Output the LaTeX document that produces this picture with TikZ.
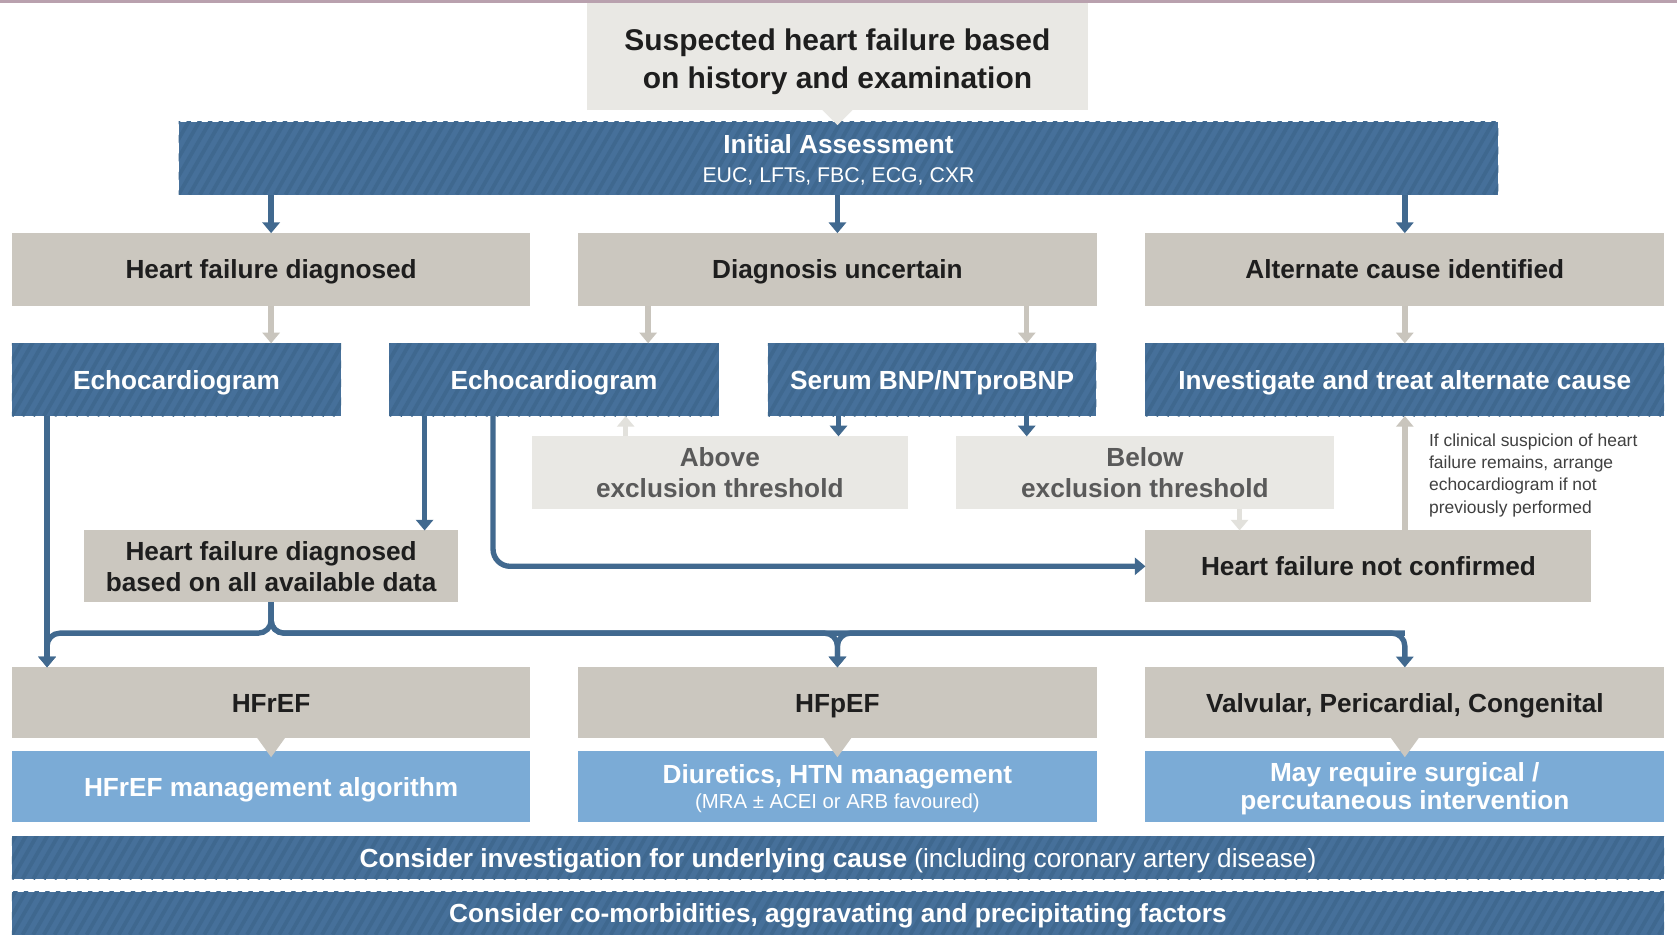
\documentclass[tikz,border=0pt]{standalone}
\usepackage{fontspec}
\setmainfont{Liberation Sans}
\usetikzlibrary{arrows.meta}
\definecolor{dkblue}{HTML}{46709A}
\definecolor{stripe}{HTML}{3F688F}
\definecolor{boxgray}{HTML}{CBC7BF}
\definecolor{boxlight}{HTML}{E9E8E4}
\definecolor{ltblue}{HTML}{7BABD6}
\definecolor{txtdark}{HTML}{1E1E1E}
\definecolor{txtmid}{HTML}{5A5A5A}
\definecolor{lngray}{HTML}{C9C5BD}
\definecolor{lnfaint}{HTML}{E2E1DC}
\definecolor{lnblue}{HTML}{41698F}
\definecolor{topline}{HTML}{B9A1AE}
\tikzset{
  base/.style={rectangle, inner sep=0pt, outer sep=0pt, align=center,
    font=\fontsize{24.5}{29}\selectfont\bfseries},
  one/.style={text height=17.6pt, text depth=0pt},
  stripes/.style={path picture={
    \foreach \k in {0,10,...,1640}
      \draw[stripe, line width=3.5pt]
        ([xshift=\k pt-60pt]path picture bounding box.south west) -- ++(60:115pt);
  }},
  dkbox/.style={base, fill=dkblue, stripes, text=white},
  gybox/.style={base, fill=boxgray, text=txtdark},
  lgbox/.style={base, fill=boxlight, text=txtmid},
  lbbox/.style={base, fill=ltblue, text=white},
  row/.style={minimum width=485pt, minimum height=68pt},
  mid/.style={minimum width=308pt, minimum height=68pt},
  tip/.style={-{Triangle[width=16pt,length=10pt]}},
  dkarr/.style={draw=lnblue, line width=5pt, tip},
  gyarr/.style={draw=lngray, line width=5pt, tip},
  fnarr/.style={draw=lnfaint, line width=5pt, tip},
  dkline/.style={draw=lnblue, line width=5pt, rounded corners=12pt},
}
\begin{document}
\begin{tikzpicture}[x=1pt,y=-1pt]
\useasboundingbox (0,0) rectangle (1568,874);
\fill[white] (0,0) rectangle (1568,874);
\fill[topline] (0,0) rectangle (1568,2.5);

% row 0 / 1
\node[lgbox, text=txtdark, minimum width=468pt, minimum height=100pt, text height=65pt,
  font=\fontsize{28}{35}\selectfont\bfseries] (sus) at (783,53)
  {Suspected heart failure based\\on history and examination};
\node[dkbox, minimum width=1234pt, minimum height=68pt, text depth=0pt] (ia) at (784,148)
  {Initial Assessment\\[-2pt]{\fontsize{19.9}{24}\selectfont\mdseries EUC, LFTs, FBC, ECG, CXR}};
\fill[boxlight] (sus.south) ++(-14,0) -- ++(28,0) -- ++(-14,14) -- cycle;

% row 2
\node[gybox, row, one] (hfd) at (253.5,252) {Heart failure diagnosed};
\node[gybox, row, one] (du) at (783,252) {Diagnosis uncertain};
\node[gybox, row, one] (alt) at (1313.5,252) {Alternate cause identified};

% row 3
\node[dkbox, mid, one] (echo1) at (165,355) {Echocardiogram};
\node[dkbox, mid, one] (echo2) at (518,355) {Echocardiogram};
\node[dkbox, mid, one, minimum width=307pt] (bnp) at (871.5,355) {Serum BNP/NTproBNP};
\node[dkbox, row, one] (inv) at (1313.5,355) {Investigate and treat alternate cause};

% thresholds
\node[lgbox, minimum width=352pt, minimum height=68pt] (above) at (673,442) {Above\\exclusion threshold};
\node[lgbox, minimum width=353pt, minimum height=68pt] (below) at (1070.5,442) {Below\\exclusion threshold};

\node[gybox, minimum width=349pt, minimum height=67pt] (hfb) at (253.5,529.5)
  {Heart failure diagnosed\\based on all available data};
\node[gybox, one, minimum width=417pt, minimum height=67pt] (hfnc) at (1279.5,529.5)
  {Heart failure not confirmed};
\node[anchor=north west, align=left, inner sep=0pt, text=txtdark!85,
  font=\fontsize{16.3}{21}\selectfont] (note) at (1336,405)
  {If clinical suspicion of heart\\failure remains, arrange\\echocardiogram if not\\previously performed};

% row 4 / 5
\node[gybox, row, one, minimum height=66pt] (hfref) at (253.5,657) {HFrEF};
\node[gybox, row, one, minimum height=66pt] (hfpef) at (783,657) {HFpEF};
\node[gybox, row, one, minimum height=66pt] (valv) at (1313.5,657) {Valvular, Pericardial, Congenital};

\node[lbbox, row, one, minimum height=67pt] (mref) at (253.5,735.5) {HFrEF management algorithm};
\node[lbbox, row, minimum height=67pt, text depth=0pt] (mpef) at (783,735.5)
  {Diuretics, HTN management\\[-6pt]{\fontsize{19}{22}\selectfont\mdseries (MRA ± ACEI or ARB favoured)}};
\node[lbbox, row, minimum height=67pt, text depth=1pt, font=\fontsize{24.5}{26}\selectfont\bfseries] (mval) at (1313.5,735.5)
  {May require surgical /\\percutaneous intervention};
\foreach \n in {hfref,hfpef,valv}
  \fill[boxgray] (\n.south) ++(-13,0) -- ++(26,0) -- ++(-13,18) -- cycle;

% bars
\node[dkbox, one, minimum width=1545pt, minimum height=40pt] (bar1) at (783.5,802)
  {Consider investigation for underlying cause {\mdseries(including coronary artery disease)}};
\node[dkbox, one, minimum width=1545pt, minimum height=40pt] (bar2) at (783.5,854)
  {Consider co-morbidities, aggravating and precipitating factors};

% connectors
\draw[dkarr] (ia.south -| hfd.north) -- (hfd.north);
\draw[dkarr] (ia.south -| du.north) -- (du.north);
\draw[dkarr] (ia.south -| alt.north) -- (alt.north);

\draw[gyarr] (hfd.south) -- (hfd.south |- echo1.north);
\draw[gyarr] (du.south -| 606,0) -- (echo2.north -| 606,0);
\draw[gyarr] (du.south -| 960,0) -- (bnp.north -| 960,0);
\draw[gyarr] (alt.south) -- (inv.north);

\draw[dkarr] (bnp.south -| 784,0) -- (above.north -| 784,0);
\draw[dkarr] (bnp.south -| 960,0) -- (below.north -| 960,0);
\draw[fnarr] (above.north -| 585,0) -- (echo2.south -| 585,0);
\draw[fnarr] (below.south -| 1159,0) -- (hfnc.north -| 1159,0);
\draw[gyarr] (hfnc.north -| inv.south) -- (inv.south);

\draw[dkarr] (echo2.south -| 397,0) -- (hfb.north -| 397,0);
\draw[dkline, tip, rounded corners=16pt] (echo2.south -| 461,0) |- (hfnc.west);

\draw[dkarr] (echo1.south -| 44,0) -- (hfref.north -| 44,0);
\coordinate (bus) at (0,592);
\draw[dkline, tip] (hfb.south) -- (hfb.south |- bus) -| (hfref.north -| 44,0);
\draw[dkline, tip] (hfb.south) -- (hfb.south |- bus) -| (hfpef.north);
\draw[dkline, tip] (hfb.south) -- (hfb.south |- bus) -| (valv.north);
\draw[dkline, tip] (valv.north |- bus) -| (hfpef.north);
\end{tikzpicture}
\end{document}
